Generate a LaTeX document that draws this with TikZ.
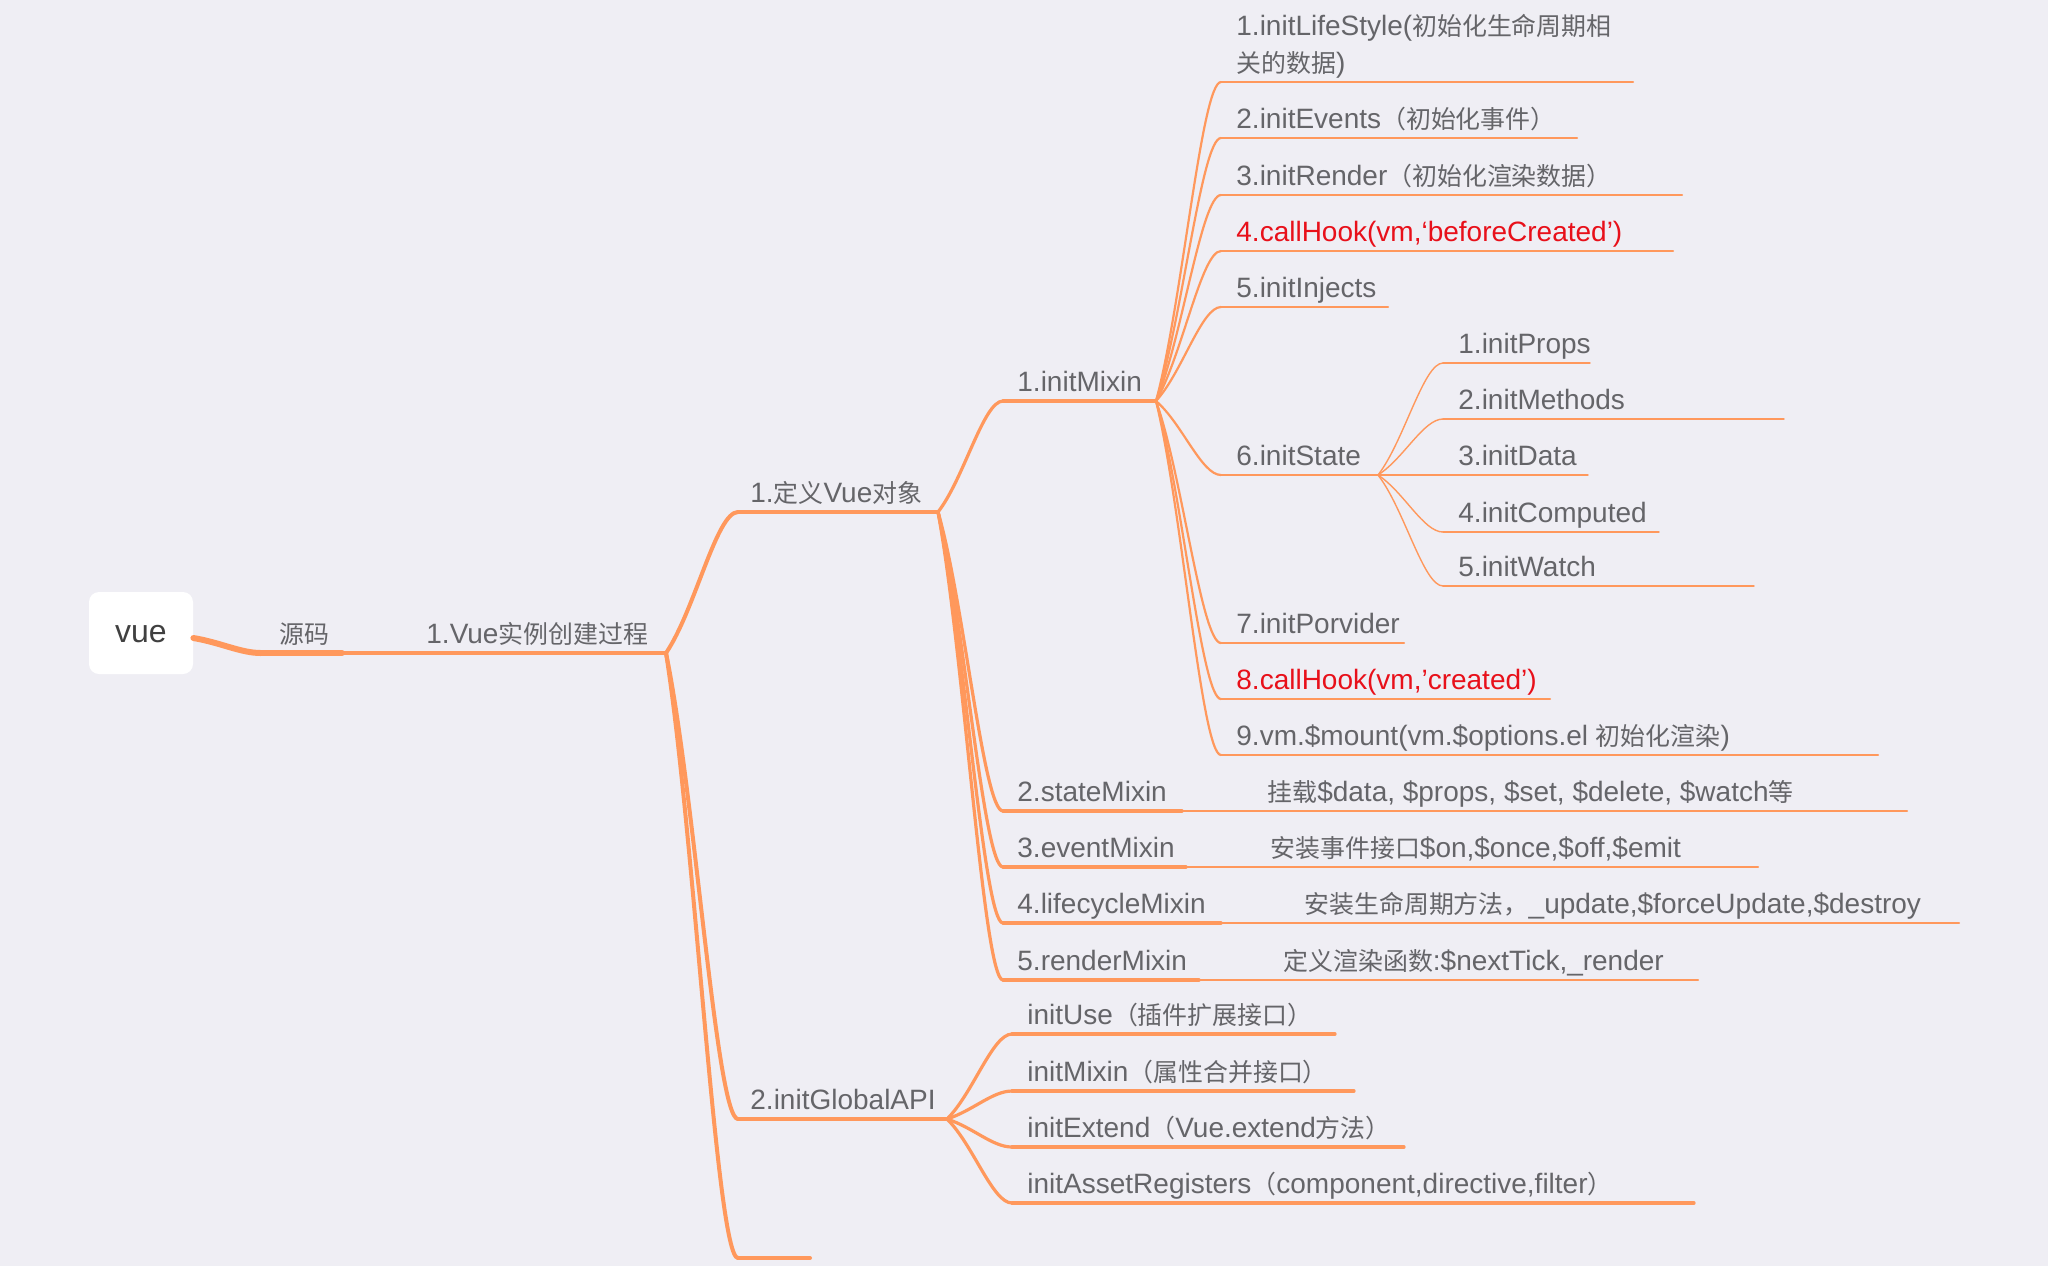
\documentclass[tikz,border=0pt]{standalone}
\usepackage{fontspec}
\setmainfont{Liberation Sans}
\newfontfamily\cjk[Scale=0.89]{Noto Sans CJK SC}
\usetikzlibrary{calc}
\definecolor{bg}{HTML}{EFEEF4}
\definecolor{br}{HTML}{FF985C}
\definecolor{tx}{HTML}{656569}
\definecolor{rd}{HTML}{E8101A}
\newcommand\zh[1]{{\cjk #1}}
% #1 text options, #2 name, #3 line style, #4 x start, #5 x end, #6 y, #7 text offset, #8 text
\newcommand\topic[8][]{%
  \coordinate (#2-L) at (#4,#6);
  \coordinate (#2-R) at (#5,#6);
  \draw[#3] (#2-L) -- (#2-R);
  \node[txt,#1] (#2) at ({#4+#7},{#6-9.5}) {#8};
}
\begin{document}
\begin{tikzpicture}[x=0.5pt,y=-0.5pt,
  ln/.style={draw=br, line cap=round, line join=round},
  L0/.style={ln, line width=3pt},
  L1/.style={ln, line width=2.3pt},
  L2/.style={ln, line width=2pt},
  L3/.style={ln, line width=1.6pt},
  L4/.style={ln, line width=1.1pt},
  L5/.style={ln, line width=0.7pt},
  LD/.style={ln, line width=1.2pt},
  txt/.style={anchor=base west, inner sep=0pt, font=\fontsize{14pt}{18.3pt}\selectfont, text=tx},
  vuebox/.style={fill=white, rounded corners=5pt, minimum width=52pt, minimum height=41pt, inner sep=0pt, font=\fontsize{16pt}{19pt}\selectfont, text=black!75},
  bez/.style={to path={let \p1=(\tikztostart), \p2=(\tikztotarget) in
     .. controls ({\x1+0.4*(\x2-\x1)},{\y1+0.3*(\y2-\y1)}) and ({\x1+0.7*(\x2-\x1)},\y2) .. (\tikztotarget)}}
]
\fill[bg] (0,0) rectangle (2048,1266);
\useasboundingbox (0,0) rectangle (2048,1266);

% root
\node[vuebox] (vue) at (141,633) {\smash{\raisebox{-4.5pt}{vue}}};
\coordinate (vue-out) at ([yshift=-2.5pt]vue.east);

\topic{src}{L0}{261}{342}{653}{18}{\zh{源码}}
\topic{v1}{L1}{342}{666}{653}{84}{1.Vue\zh{实例创建过程}}

% level 2
\topic{def}{L2}{738}{938}{512}{12}{1.\zh{定义}Vue\zh{对象}}
\topic{gapi}{L2}{738}{947}{1119}{12}{2.initGlobalAPI}
\topic{last}{L2}{738}{810}{1258}{12}{}

% level 3
\topic{mixin}{L3}{1003}{1156}{401}{14}{1.initMixin}
\topic{smix}{L3}{1003}{1182}{811}{14}{2.stateMixin}
\topic{emix}{L3}{1003}{1186}{867}{14}{3.eventMixin}
\topic{lmix}{L3}{1003}{1221}{923}{14}{4.lifecycleMixin}
\topic{rmix}{L3}{1003}{1199}{980}{14}{5.renderMixin}

% descriptions
\topic{sdesc}{LD}{1182}{1907}{811}{85}{\zh{挂载}\$data, \$props, \$set, \$delete, \$watch\zh{等}}
\topic{edesc}{LD}{1186}{1758}{867}{84}{\zh{安装事件接口}\$on,\$once,\$off,\$emit}
\topic{ldesc}{LD}{1221}{1959}{923}{83}{\zh{安装生命周期方法，}\_update,\$forceUpdate,\$destroy}
\topic{rdesc}{LD}{1199}{1698}{980}{84}{\zh{定义渲染函数}:\$nextTick,\_render}

% initMixin children
\topic{life}{L4}{1221}{1633}{82}{15}{\begin{tabular}[b]{@{}l@{}}1.initLifeStyle(\zh{初始化生命周期相}\\\zh{关的数据})\end{tabular}}
\topic{events}{L4}{1221}{1577}{138}{15}{2.initEvents\zh{（初始化事件）}}
\topic{render}{L4}{1221}{1682}{195}{15}{3.initRender\zh{（初始化渲染数据）}}
\topic[text=rd]{hookA}{L4}{1221}{1673}{251}{15}{4.callHook(vm,‘beforeCreated’)}
\topic{inject}{L4}{1221}{1388}{307}{15}{5.initInjects}
\topic{st}{L4}{1221}{1378}{475}{15}{6.initState}
\topic{prov}{L4}{1221}{1404}{643}{15}{7.initPorvider}
\topic[text=rd]{hookB}{L4}{1221}{1550}{699}{15}{8.callHook(vm,’created’)}
\topic{mount}{L4}{1221}{1878}{755}{15}{9.vm.\$mount(vm.\$options.el \zh{初始化渲染})}

% initState children
\topic{props}{L5}{1443}{1590}{363}{15}{1.initProps}
\topic{meth}{L5}{1443}{1784}{419}{15}{2.initMethods}
\topic{data}{L5}{1443}{1588}{475}{15}{3.initData}
\topic{comp}{L5}{1443}{1659}{532}{15}{4.initComputed}
\topic{watch}{L5}{1443}{1754}{586}{15}{5.initWatch}

% initGlobalAPI children
\topic{use}{L3}{1012}{1335}{1034}{15}{initUse\zh{（插件扩展接口）}}
\topic{gmix}{L3}{1012}{1354}{1091}{15}{initMixin\zh{（属性合并接口）}}
\topic{ext}{L3}{1012}{1404}{1147}{15}{initExtend\zh{（}Vue.extend\zh{方法）}}
\topic{asset}{L3}{1012}{1694}{1203}{15}{initAssetRegisters\zh{（}component,directive,filter\zh{）}}

% connectors
\draw[L0] (vue-out) to[bez] (src-L);
\foreach \c in {def,gapi,last} \draw[L2] (v1-R) to[bez] (\c-L);
\foreach \c in {mixin,smix,emix,lmix,rmix} \draw[L3] (def-R) to[bez] (\c-L);
\foreach \c in {life,events,render,hookA,inject,st,prov,hookB,mount} \draw[L4] (mixin-R) to[bez] (\c-L);
\foreach \c in {props,meth,data,comp,watch} \draw[L5] (st-R) to[bez] (\c-L);
\foreach \c in {use,gmix,ext,asset} \draw[L3] (gapi-R) to[bez] (\c-L);
\end{tikzpicture}
\end{document}
